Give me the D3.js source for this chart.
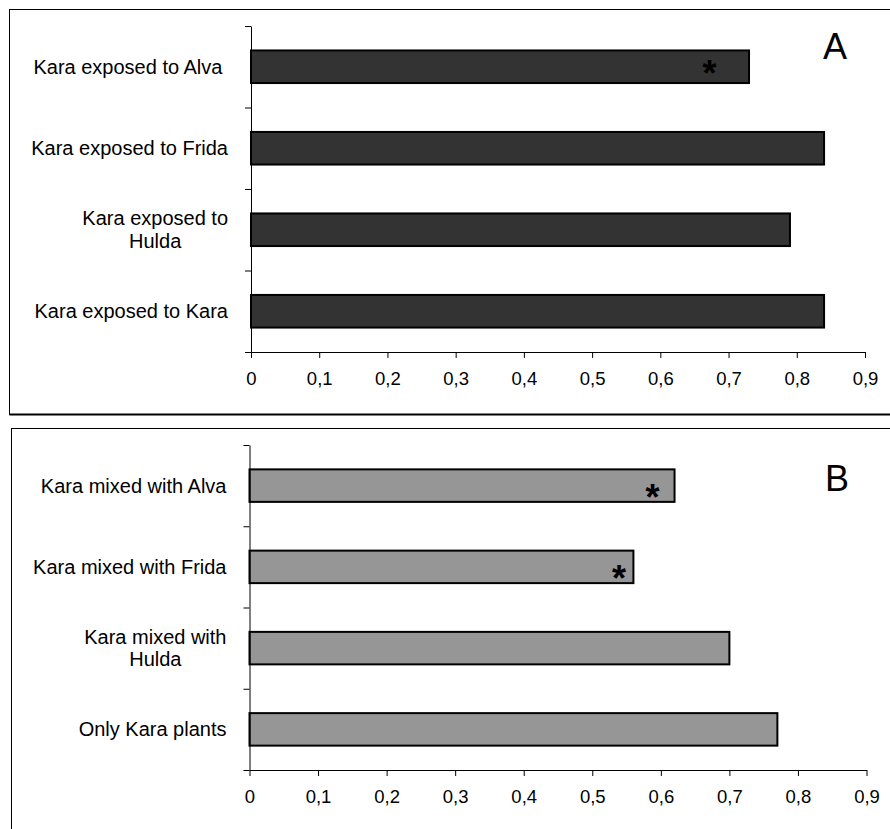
<!DOCTYPE html>
<html>
<head>
<meta charset="utf-8">
<script src="https://cdn.jsdelivr.net/npm/d3@7"></script>
<style>
  html, body { margin: 0; padding: 0; background: #fff; }
  svg { display: block; }
  text { font-family: "Liberation Sans", Arial, sans-serif; fill: #000; white-space: pre; }
</style>
</head>
<body>
<svg id="chart" width="890" height="829"></svg>
<script>
// Panel A: Kara exposed to volatiles of other cultivars
const categoriesA = ["Kara exposed to Alva ", "Kara exposed to Frida", "Kara exposed to\nHulda", "Kara exposed to Kara"];
const valuesA = [0.73, 0.84, 0.79, 0.84];
const starsA = [{ category: "Kara exposed to Alva ", at: 0.672 }];

// Panel B: Kara grown in mixtures
const categoriesB = ["Kara mixed with Alva", "Kara mixed with Frida", "Kara mixed with\nHulda", "Only Kara plants"];
const valuesB = [0.62, 0.56, 0.70, 0.77];
const starsB = [
  { category: "Kara mixed with Alva", at: 0.588 },
  { category: "Kara mixed with Frida", at: 0.539 }
];

const tickValues = [0, 0.1, 0.2, 0.3, 0.4, 0.5, 0.6, 0.7, 0.8, 0.9];
const tickLabels = ["0", "0,1", "0,2", "0,3", "0,4", "0,5", "0,6", "0,7", "0,8", "0,9"];
const panelLetters = ["A", "B"];

const svg = d3.select("#chart");

const panels = [
  { letter: panelLetters[0], cats: categoriesA, vals: valuesA, stars: starsA, fill: "#333333",
    box: { x: 9.5, y: 9.5, w: 900, h: 405, bottomW: 2 },
    plot: { left: 251, right: 865, top: 26, bottom: 352 },
    letterPos: { x: 835, y: 59 }, starDy: 0 },
  { letter: panelLetters[1], cats: categoriesB, vals: valuesB, stars: starsB, fill: "#969696",
    box: { x: 11.5, y: 428.5, w: 900, h: 420, bottomW: 1 },
    plot: { left: 249.5, right: 866.5, top: 445, bottom: 770 },
    letterPos: { x: 837, y: 490.5 }, starDy: 5 }
];

panels.forEach(p => {
  const g = svg.append("g");

  // frame around the panel
  g.append("rect")
    .attr("x", p.box.x).attr("y", p.box.y)
    .attr("width", p.box.w).attr("height", p.box.h)
    .attr("fill", "none").attr("stroke", "#000").attr("stroke-width", 1);
  g.append("line")
    .attr("x1", p.box.x).attr("x2", p.box.x + p.box.w)
    .attr("y1", p.box.y + p.box.h).attr("y2", p.box.y + p.box.h)
    .attr("stroke", "#000").attr("stroke-width", p.box.bottomW);

  const x = d3.scaleLinear().domain([0, 0.9]).range([p.plot.left, p.plot.right]);
  const y = d3.scaleBand().domain(p.cats)
    .range([p.plot.top, p.plot.bottom])
    .paddingInner(0.6).paddingOuter(0.3);
  const yEdges = d3.scaleLinear().domain([0, p.cats.length]).range([p.plot.top, p.plot.bottom]);

  // bars
  g.selectAll("rect.bar")
    .data(p.cats.map((c, i) => ({ c, v: p.vals[i] })))
    .join("rect")
    .attr("class", "bar")
    .attr("x", x(0))
    .attr("y", d => y(d.c))
    .attr("width", d => x(d.v) - x(0))
    .attr("height", y.bandwidth())
    .attr("fill", p.fill)
    .attr("stroke", "#000")
    .attr("stroke-width", 2);

  // category axis with ticks between categories
  const yAxis = g.append("g")
    .attr("transform", `translate(${p.plot.left},0)`)
    .call(d3.axisLeft(yEdges).tickValues(d3.range(p.cats.length + 1)).tickFormat("").tickSize(6).tickSizeOuter(0));
  yAxis.selectAll("path,line").attr("stroke", "#000").attr("stroke-width", 1);

  // value axis
  const xAxis = g.append("g")
    .attr("transform", `translate(0,${p.plot.bottom})`)
    .call(d3.axisBottom(x).tickValues(tickValues)
      .tickFormat((d, i) => tickLabels[i]).tickSize(6).tickSizeOuter(0).tickPadding(14));
  xAxis.selectAll("path,line").attr("stroke", "#000").attr("stroke-width", 1);
  xAxis.selectAll("text")
    .style("font-family", '"Liberation Sans", Arial, sans-serif')
    .style("font-size", "18.5px")
    .attr("fill", "#000");

  // category labels: block right-aligned to the axis, wrapped lines centred inside it
  const labelRight = p.plot.left - 23;
  const lineH = 22.7;
  p.cats.forEach(c => {
    const lines = c.split("\n");
    const t = g.append("text")
      .style("font-size", "20px");
    const cy = y(c) + y.bandwidth() / 2;
    const first = cy - (lines.length - 1) * lineH / 2;
    const spans = lines.map((ln, i) => t.append("tspan")
      .attr("y", first + i * lineH)
      .attr("dy", "0.35em")
      .text(ln));
    const widths = spans.map(s => s.node().getComputedTextLength());
    const maxW = d3.max(widths);
    spans.forEach(s => s.attr("x", labelRight - maxW / 2).attr("text-anchor", "middle"));
  });

  // significance markers
  p.stars.forEach(s => {
    g.append("text")
      .attr("x", x(s.at))
      .attr("y", y(s.category) + y.bandwidth() / 2 + p.starDy + 19)
      .attr("text-anchor", "middle")
      .style("font-size", "36px")
      .style("font-weight", "bold")
      .text("*");
  });

  // panel letter
  g.append("text")
    .attr("x", p.letterPos.x).attr("y", p.letterPos.y)
    .attr("text-anchor", "middle")
    .style("font-size", "36px")
    .text(p.letter);
});
</script>
</body>
</html>
